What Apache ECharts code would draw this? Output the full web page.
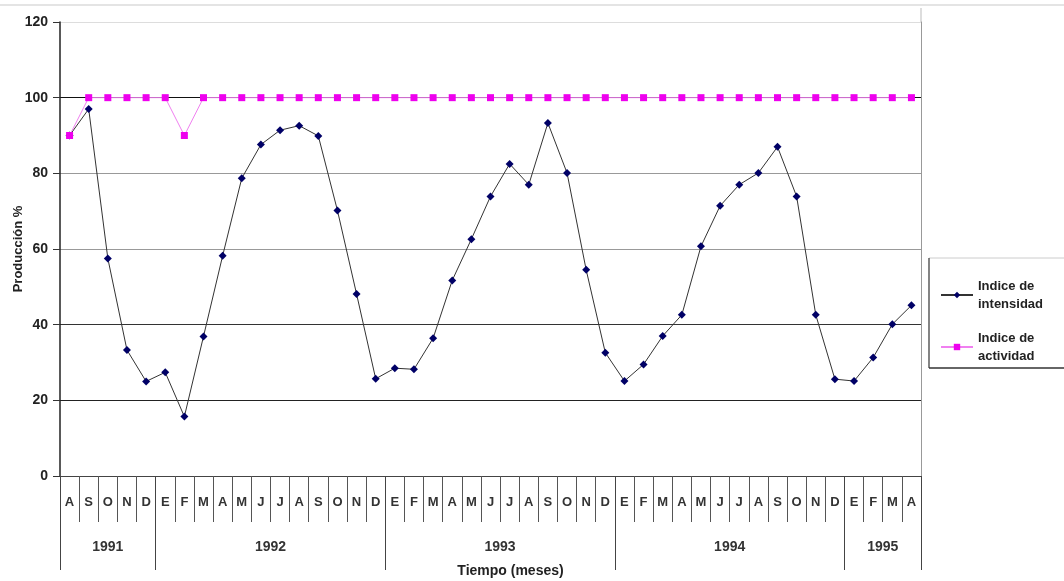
<!DOCTYPE html>
<html>
<head>
<meta charset="utf-8">
<script src="https://cdn.jsdelivr.net/npm/echarts@6/dist/echarts.min.js"></script>
<style>
  html, body { margin: 0; padding: 0; background: #fff; }
  #chart { width: 1064px; height: 581px; }
</style>
</head>
<body>
<div id="chart"></div>
<script>
// Month initials (Spanish), Aug 1991 – Apr 1995
const monthLabels = [
  'A','S','O','N','D',
  'E','F','M','A','M','J','J','A','S','O','N','D',
  'E','F','M','A','M','J','J','A','S','O','N','D',
  'E','F','M','A','M','J','J','A','S','O','N','D',
  'E','F','M','A'
];
const yearLabels = ['1991', '1992', '1993', '1994', '1995'];
const monthsPerYear = [5, 12, 12, 12, 4];

// Production indices (%)
const intensidad = [
  90, 97, 57.5, 33.3, 25,
  27.4, 15.7, 36.9, 58.2, 78.7, 87.6, 91.4, 92.6, 89.9, 70.2, 48.1, 25.7,
  28.5, 28.2, 36.4, 51.7, 62.6, 73.9, 82.5, 77, 93.3, 80.1, 54.5, 32.6,
  25.1, 29.5, 37, 42.6, 60.7, 71.4, 77, 80.1, 87, 73.9, 42.6, 25.6,
  25.1, 31.3, 40.1, 45.1
];
const actividad = [
  90, 100, 100, 100, 100,
  100, 90, 100, 100, 100, 100, 100, 100, 100, 100, 100, 100,
  100, 100, 100, 100, 100, 100, 100, 100, 100, 100, 100, 100,
  100, 100, 100, 100, 100, 100, 100, 100, 100, 100, 100, 100,
  100, 100, 100, 100
];

// Year axis works in half-month steps so that both the year boundaries
// and the centres of each year fall on whole positions.
const yearBoundaries = [0];
const yearCentres = {};
let acc = 0;
monthsPerYear.forEach((n, i) => {
  yearCentres[acc + n] = yearLabels[i];   // centre in half-month units
  acc += 2 * n;
  yearBoundaries.push(acc);
});
const halfSteps = [];
for (let i = 0; i <= acc; i++) halfSteps.push(yearCentres[i] || '');

const FONT = '"Liberation Sans", Arial, sans-serif';
const chart = echarts.init(document.getElementById('chart'), null, { renderer: 'canvas' });

chart.setOption({
  animation: false,
  backgroundColor: '#fff',
  textStyle: { fontFamily: FONT },
  grid: {
    left: 60, right: 143, top: 22, bottom: 105,
    containLabel: false, outerBoundsMode: 'none'
  },
  xAxis: [
    {
      type: 'category',
      data: monthLabels,
      boundaryGap: true,
      position: 'bottom',
      axisLine: { show: true, lineStyle: { color: '#444', width: 1 } },
      axisTick: { show: true, interval: 0, length: 46, lineStyle: { color: '#555', width: 1 } },
      axisLabel: {
        interval: 0, margin: 20,
        fontFamily: FONT, fontSize: 13, fontWeight: 'bold', color: '#333'
      },
      splitLine: { show: false },
      name: 'Tiempo (meses)',
      nameLocation: 'middle',
      nameGap: 88,
      nameMoveOverlap: false,
      nameTextStyle: {
        fontFamily: FONT, fontSize: 14, fontWeight: 'bold', color: '#222',
        padding: [0, 0, 0, 40]
      }
    },
    {
      type: 'category',
      data: halfSteps,
      boundaryGap: false,
      position: 'bottom',
      axisLine: { show: false },
      axisTick: {
        show: true, length: 94,
        interval: (idx) => yearBoundaries.indexOf(idx) !== -1,
        lineStyle: { color: '#444', width: 1 }
      },
      axisLabel: {
        margin: 64,
        interval: (idx) => yearCentres[idx] !== undefined,
        fontFamily: FONT, fontSize: 14, fontWeight: 'bold', color: '#333'
      },
      splitLine: { show: false }
    }
  ],
  yAxis: [
    {
      type: 'value',
      min: 0, max: 120, interval: 20,
      axisLine: { show: true, lineStyle: { color: '#222', width: 1.5 } },
      axisTick: { show: true, inside: false, length: 7, lineStyle: { color: '#333' } },
      axisLabel: {
        margin: 12,
        fontFamily: FONT, fontSize: 14, fontWeight: 'bold', color: '#222'
      },
      splitLine: {
        show: true,
        lineStyle: {
          color: ['#444', '#222', '#333', '#999', '#999', '#111', '#ddd'],
          width: 1.2
        }
      },
      name: 'Producción %',
      nameLocation: 'middle',
      nameGap: 35,
      nameMoveOverlap: false,
      nameTextStyle: { fontFamily: FONT, fontSize: 13, fontWeight: 'bold', color: '#222' }
    },
    {
      type: 'value',
      position: 'right',
      min: 0, max: 120,
      axisLine: { show: true, lineStyle: { color: '#999', width: 1 } },
      axisTick: { show: false },
      axisLabel: { show: false },
      splitLine: { show: false }
    }
  ],
  legend: {
    orient: 'vertical',
    left: 935,
    top: 272,
    itemWidth: 32,
    itemHeight: 8,
    itemGap: 16,
    textStyle: {
      fontFamily: FONT, fontSize: 13, fontWeight: 'bold', color: '#222', lineHeight: 18
    },
    data: ['Indice de\nintensidad', 'Indice de\nactividad']
  },
  graphic: [
    { type: 'line', shape: { x1: 0, y1: 5, x2: 1064, y2: 5 }, style: { stroke: '#e4e4e4', lineWidth: 2 } },
    { type: 'line', shape: { x1: 921, y1: 8, x2: 921, y2: 22 }, style: { stroke: '#bbb', lineWidth: 1 } },
    { type: 'line', shape: { x1: 929, y1: 258, x2: 1064, y2: 258 }, style: { stroke: '#ccc', lineWidth: 1 } },
    { type: 'line', shape: { x1: 929, y1: 258, x2: 929, y2: 368 }, style: { stroke: '#333', lineWidth: 1.2 } },
    { type: 'line', shape: { x1: 929, y1: 368, x2: 1064, y2: 368 }, style: { stroke: '#333', lineWidth: 1.5 } }
  ],
  series: [
    {
      name: 'Indice de\nintensidad',
      type: 'line',
      xAxisIndex: 0, yAxisIndex: 0,
      data: intensidad,
      symbol: 'diamond',
      symbolSize: 8,
      itemStyle: { color: '#000066' },
      lineStyle: { color: '#333', width: 1 },
      z: 3
    },
    {
      name: 'Indice de\nactividad',
      type: 'line',
      xAxisIndex: 0, yAxisIndex: 0,
      data: actividad,
      symbol: 'rect',
      symbolSize: 7,
      itemStyle: { color: '#ee00ee' },
      lineStyle: { color: '#f080f0', width: 1 },
      z: 4
    }
  ]
});
</script>
</body>
</html>
